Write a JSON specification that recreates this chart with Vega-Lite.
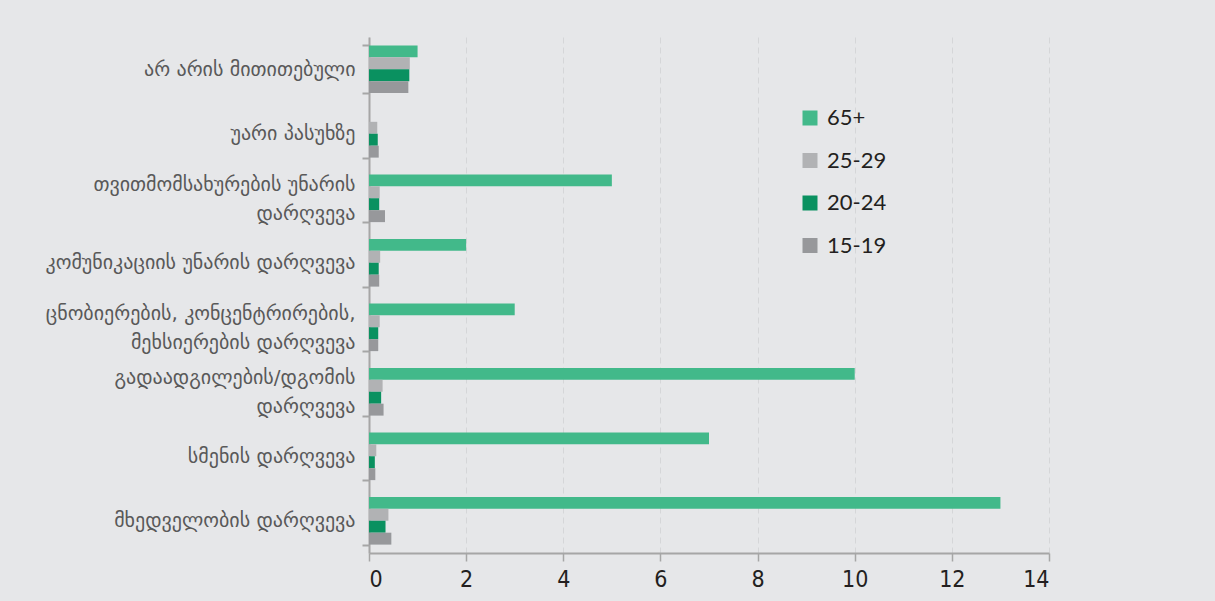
{
  "$schema": "https://vega.github.io/schema/vega-lite/v6.json",
  "autosize": {"type": "none"},
  "width": 680,
  "height": 516,
  "padding": {"left": 369, "top": 37, "right": 166, "bottom": 48},
  "background": "#e6e7e9",
  "data": {
    "values": [
      {"category": "არ არის მითითებული", "group": "65+", "value": 1.0},
      {"category": "არ არის მითითებული", "group": "25-29", "value": 0.84},
      {"category": "არ არის მითითებული", "group": "20-24", "value": 0.83},
      {"category": "არ არის მითითებული", "group": "15-19", "value": 0.81},
      {"category": "უარი პასუხზე", "group": "65+", "value": 0},
      {"category": "უარი პასუხზე", "group": "25-29", "value": 0.17},
      {"category": "უარი პასუხზე", "group": "20-24", "value": 0.18},
      {"category": "უარი პასუხზე", "group": "15-19", "value": 0.2},
      {"category": "თვითმომსახურების უნარის დარღვევა", "group": "65+", "value": 5},
      {"category": "თვითმომსახურების უნარის დარღვევა", "group": "25-29", "value": 0.22},
      {"category": "თვითმომსახურების უნარის დარღვევა", "group": "20-24", "value": 0.21},
      {"category": "თვითმომსახურების უნარის დარღვევა", "group": "15-19", "value": 0.33},
      {"category": "კომუნიკაციის უნარის დარღვევა", "group": "65+", "value": 2},
      {"category": "კომუნიკაციის უნარის დარღვევა", "group": "25-29", "value": 0.23},
      {"category": "კომუნიკაციის უნარის დარღვევა", "group": "20-24", "value": 0.2},
      {"category": "კომუნიკაციის უნარის დარღვევა", "group": "15-19", "value": 0.21},
      {"category": "ცნობიერების, კონცენტრირების, მეხსიერების დარღვევა", "group": "65+", "value": 3},
      {"category": "ცნობიერების, კონცენტრირების, მეხსიერების დარღვევა", "group": "25-29", "value": 0.22},
      {"category": "ცნობიერების, კონცენტრირების, მეხსიერების დარღვევა", "group": "20-24", "value": 0.19},
      {"category": "ცნობიერების, კონცენტრირების, მეხსიერების დარღვევა", "group": "15-19", "value": 0.19},
      {"category": "გადაადგილების/დგომის დარღვევა", "group": "65+", "value": 10},
      {"category": "გადაადგილების/დგომის დარღვევა", "group": "25-29", "value": 0.28},
      {"category": "გადაადგილების/დგომის დარღვევა", "group": "20-24", "value": 0.25},
      {"category": "გადაადგილების/დგომის დარღვევა", "group": "15-19", "value": 0.3},
      {"category": "სმენის დარღვევა", "group": "65+", "value": 7},
      {"category": "სმენის დარღვევა", "group": "25-29", "value": 0.15},
      {"category": "სმენის დარღვევა", "group": "20-24", "value": 0.12},
      {"category": "სმენის დარღვევა", "group": "15-19", "value": 0.13},
      {"category": "მხედველობის დარღვევა", "group": "65+", "value": 13},
      {"category": "მხედველობის დარღვევა", "group": "25-29", "value": 0.4},
      {"category": "მხედველობის დარღვევა", "group": "20-24", "value": 0.34},
      {"category": "მხედველობის დარღვევა", "group": "15-19", "value": 0.46}
    ]
  },
  "mark": {"type": "bar"},
  "encoding": {
    "y": {
      "field": "category",
      "type": "nominal",
      "sort": null,
      "title": null,
      "scale": {"paddingInner": 0.26, "paddingOuter": 0.13},
      "axis": {
        "labelFont": "DejaVu Sans",
        "labelFontSize": 20,
        "labelColor": "#595959",
        "labelLimit": 400,
        "labelPadding": 7,
        "labelLineHeight": 29,
        "labelOffset": {
          "condition": {
            "test": "datum.value == 'თვითმომსახურების უნარის დარღვევა' || datum.value == 'ცნობიერების, კონცენტრირების, მეხსიერების დარღვევა' || datum.value == 'გადაადგილების/დგომის დარღვევა'",
            "value": -14
          },
          "value": 0
        },
        "labelExpr": "datum.value == 'თვითმომსახურების უნარის დარღვევა' ? ['თვითმომსახურების უნარის', 'დარღვევა'] : datum.value == 'ცნობიერების, კონცენტრირების, მეხსიერების დარღვევა' ? ['ცნობიერების, კონცენტრირების,', 'მეხსიერების დარღვევა'] : datum.value == 'გადაადგილების/დგომის დარღვევა' ? ['გადაადგილების/დგომის', 'დარღვევა'] : datum.value",
        "domainColor": "#a6a6a6",
        "domainWidth": 2,
        "tickColor": "#a6a6a6",
        "tickWidth": 2,
        "tickSize": 7,
        "tickBand": "extent",
        "grid": false
      }
    },
    "x": {
      "field": "value",
      "type": "quantitative",
      "title": null,
      "scale": {"domain": [0, 14], "nice": false},
      "axis": {
        "values": [0, 2, 4, 6, 8, 10, 12, 14],
        "labelFont": "DejaVu Sans Condensed, Roboto, sans-serif",
        "labelFontSize": 23,
        "labelColor": "#231f20",
        "labelPadding": 7,
        "domainColor": "#a6a6a6",
        "domainWidth": 2,
        "tickColor": "#a6a6a6",
        "tickWidth": 1.5,
        "tickSize": 8,
        "grid": true,
        "gridColor": "#d5d6d8",
        "gridDash": [6, 4],
        "gridWidth": 1
      }
    },
    "yOffset": {
      "field": "group",
      "type": "nominal",
      "sort": ["65+", "25-29", "20-24", "15-19"]
    },
    "color": {
      "field": "group",
      "type": "nominal",
      "scale": {
        "domain": ["65+", "25-29", "20-24", "15-19"],
        "range": ["#42b98a", "#b1b2b4", "#0a9160", "#97989b"]
      },
      "legend": {
        "title": null,
        "orient": "none",
        "legendX": 430,
        "legendY": 70,
        "symbolType": "square",
        "symbolSize": 225,
        "symbolStrokeWidth": 0,
        "labelFont": "Lato, sans-serif",
        "labelFontSize": 22,
        "labelColor": "#231f20",
        "rowPadding": 20.5,
        "labelOffset": 6
      }
    }
  },
  "config": {
    "view": {"stroke": null}
  }
}
